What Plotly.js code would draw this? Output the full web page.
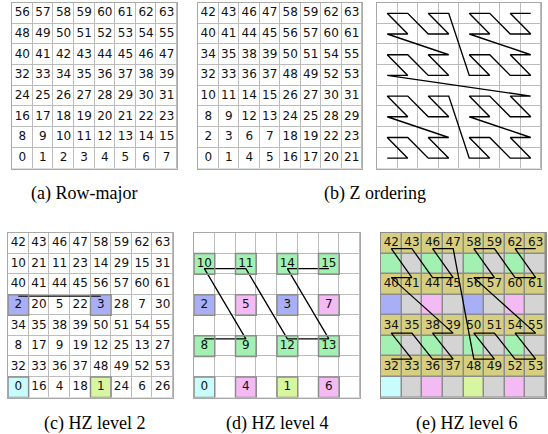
<!DOCTYPE html>
<html><head><meta charset="utf-8">
<script src="https://cdn.plot.ly/plotly-3.0.1.min.js"></script>
<style>html,body{margin:0;padding:0;background:#fff}#chart{width:548px;height:434px}</style>
</head><body><div id="chart"></div>
<script>
// ---------- data (rows listed top to bottom, as printed) ----------
const rowMajorRows = [
  [56,57,58,59,60,61,62,63],
  [48,49,50,51,52,53,54,55],
  [40,41,42,43,44,45,46,47],
  [32,33,34,35,36,37,38,39],
  [24,25,26,27,28,29,30,31],
  [16,17,18,19,20,21,22,23],
  [8,9,10,11,12,13,14,15],
  [0,1,2,3,4,5,6,7]
];
const zOrderRows = [
  [42,43,46,47,58,59,62,63],
  [40,41,44,45,56,57,60,61],
  [34,35,38,39,50,51,54,55],
  [32,33,36,37,48,49,52,53],
  [10,11,14,15,26,27,30,31],
  [8,9,12,13,24,25,28,29],
  [2,3,6,7,18,19,22,23],
  [0,1,4,5,16,17,20,21]
];
const hzRows = [
  [42,43,46,47,58,59,62,63],
  [10,21,11,23,14,29,15,31],
  [40,41,44,45,56,57,60,61],
  [2,20,5,22,3,28,7,30],
  [34,35,38,39,50,51,54,55],
  [8,17,9,19,12,25,13,27],
  [32,33,36,37,48,49,52,53],
  [0,16,4,18,1,24,6,26]
];
const hzLevelsShown = [2, 4, 6];          // panels c, d, e
const captions = ['(a) Row-major', '(b) Z ordering', '(c) HZ level 2', '(d) HZ level 4', '(e) HZ level 6'];

// ---------- style ----------
const W = 548, H = 434;
const levelColors = ['#c9fcfc', '#d8f6a0', '#a9aff6', '#f3baf3', '#a3f0b3', '#d4d4d4', '#d6cf7f'];
const gridColor = '#bcbcbc', darkGrid = '#8c8c8c';
// pixel boxes [x0,x1,y0,y1]
const boxes = [
  [12, 177, 3, 168.5],
  [198, 362, 3, 168.5],
  [377, 541, 3, 168.5],
  [8, 173, 233, 397.5],
  [194, 360, 233, 397.5],
  [381, 546, 233, 397.5]
];
const capPos = [[84, 193], [375, 193], [94, 423], [277, 423], [466, 423]];
// vertical placement of curve segments per grid row (row counted from bottom)
const lineRowY = {
  c: {4: 4.93},
  d: {2: 2.85, 6: 6.27},
  e: {1: 1.87, 3: 3.13, 5: 5.83, 7: 7.24}
};

function level(n) { return n === 0 ? 0 : Math.floor(Math.log2(n)) + 1; }
function bottomUp(rows) { return rows.slice().reverse(); }
function positions(rows) {
  const pos = {};
  bottomUp(rows).forEach((r, j) => r.forEach((v, i) => { pos[v] = [i, j]; }));
  return pos;
}
const centers = [0.5, 1.5, 2.5, 3.5, 4.5, 5.5, 6.5, 7.5];

const traces = [];
const shapes = [];
const layout = {
  width: W, height: H,
  margin: {l: 0, r: 0, t: 0, b: 0},
  paper_bgcolor: '#fff', plot_bgcolor: gridColor,
  showlegend: false, annotations: [], shapes: shapes
};

function axisKeys(i) { return i === 0 ? ['x', 'y', 'xaxis', 'yaxis'] : ['x' + (i + 1), 'y' + (i + 1), 'xaxis' + (i + 1), 'yaxis' + (i + 1)]; }

const panelDefs = [
  {rows: rowMajorRows, maxLevel: null, text: () => true},
  {rows: zOrderRows, maxLevel: null, text: () => true},
  {rows: zOrderRows, maxLevel: null, text: () => false, path: {rows: zOrderRows, from: 0, to: 63}},
  {rows: hzRows, maxLevel: hzLevelsShown[0], text: () => true, path: {rows: hzRows, from: 2, to: 3, key: 'c'}, border: true},
  {rows: hzRows, maxLevel: hzLevelsShown[1], text: v => level(v) <= hzLevelsShown[1], path: {rows: hzRows, from: 8, to: 15, key: 'd'}, border: true},
  {rows: hzRows, maxLevel: hzLevelsShown[2], text: v => level(v) === hzLevelsShown[2], path: {rows: hzRows, from: 32, to: 63, key: 'e'}, dark: true}
];

const cs = [[0, '#ffffff']];
levelColors.forEach((c, i) => cs.push([(i + 1) / levelColors.length, c]));

panelDefs.forEach((p, i) => {
  const [xr, yr, xa, ya] = axisKeys(i);
  const b = boxes[i];
  layout[xa] = {domain: [b[0] / W, b[1] / W], range: [0, 8], showgrid: false, zeroline: false,
    showticklabels: false, ticks: '', showline: true, mirror: true, linewidth: 1,
    linecolor: p.dark ? darkGrid : '#a8a8a8', anchor: yr, fixedrange: true};
  layout[ya] = {domain: [1 - b[3] / H, 1 - b[2] / H], range: [0, 8], showgrid: false, zeroline: false,
    showticklabels: false, ticks: '', showline: true, mirror: true, linewidth: 1,
    linecolor: p.dark ? darkGrid : '#a8a8a8', anchor: xr, fixedrange: true};

  const rowsB = bottomUp(p.rows);
  const z = rowsB.map(r => r.map(v => {
    if (p.maxLevel === null) return -1;
    const l = level(v);
    return l <= p.maxLevel ? l : -1;
  }));
  if (p.dark) {
    shapes.push({type: 'rect', xref: xr + ' domain', yref: yr + ' domain', x0: 0, x1: 1, y0: 0, y1: 1,
      fillcolor: darkGrid, line: {width: 0}, layer: 'below'});
  }
  traces.push({type: 'heatmap', xaxis: xr, yaxis: yr, x: centers, y: centers, z: z,
    zmin: -1, zmax: levelColors.length - 1, colorscale: cs, showscale: false,
    xgap: p.dark ? 1.5 : 1, ygap: p.dark ? 1.5 : 1, hoverinfo: 'skip'});

  if (p.border) {
    rowsB.forEach((r, j) => r.forEach((v, k) => {
      if (level(v) <= p.maxLevel) {
        shapes.push({type: 'rect', xref: xr, yref: yr, x0: k, x1: k + 1, y0: j, y1: j + 1,
          line: {color: darkGrid, width: 1.5}, fillcolor: 'rgba(0,0,0,0)', layer: 'above'});
      }
    }));
  }

  const tx = [], ty = [], tt = [];
  rowsB.forEach((r, j) => r.forEach((v, k) => {
    if (p.text(v)) { tx.push(k + 0.5); ty.push(j + 0.5); tt.push(String(v)); }
  }));
  if (tx.length) {
    traces.push({type: 'scatter', mode: 'text', xaxis: xr, yaxis: yr, x: tx, y: ty, text: tt,
      textposition: 'middle center', textfont: {family: 'DejaVu Sans', size: 12, color: '#111'},
      hoverinfo: 'skip', cliponaxis: false});
  }

  if (p.path) {
    const pos = positions(p.path.rows);
    const lx = [], ly = [];
    for (let v = p.path.from; v <= p.path.to; v++) {
      const [c, r] = pos[v];
      lx.push(c + 0.5);
      const map = p.path.key ? lineRowY[p.path.key] : null;
      ly.push(map && map[r] !== undefined ? map[r] : r + 0.5);
    }
    traces.push({type: 'scatter', mode: 'lines', xaxis: xr, yaxis: yr, x: lx, y: ly,
      line: {color: '#000', width: p.path.key ? 1.3 : 1.4}, hoverinfo: 'skip', cliponaxis: false});
  }
});

captions.forEach((t, i) => {
  layout.annotations.push({text: t, xref: 'paper', yref: 'paper', x: capPos[i][0] / W, y: 1 - capPos[i][1] / H,
    xanchor: 'center', yanchor: 'middle', showarrow: false,
    font: {family: 'Liberation Serif', size: 18, color: '#000'}});
});

Plotly.newPlot('chart', traces, layout, {staticPlot: true, displayModeBar: false});
</script></body></html>
